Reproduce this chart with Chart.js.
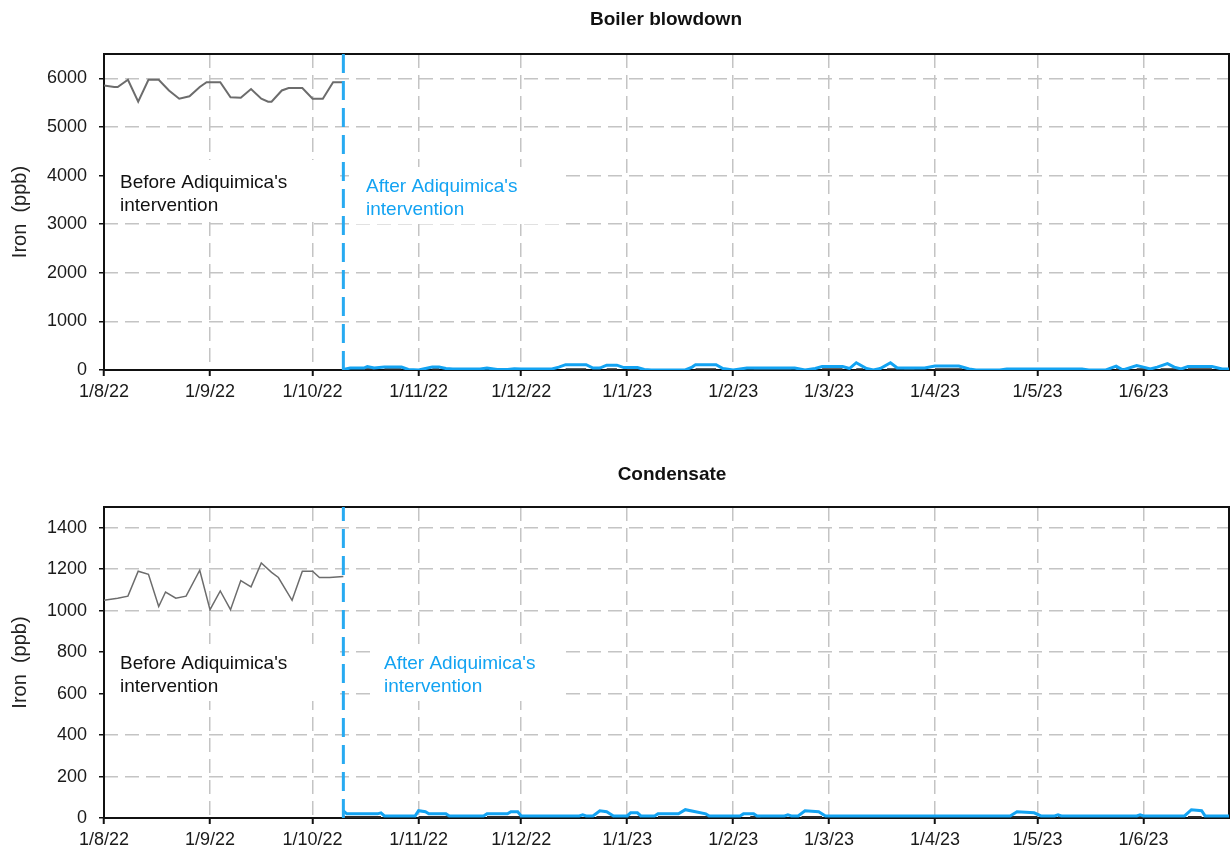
<!DOCTYPE html>
<html>
<head>
<meta charset="utf-8">
<script src="https://cdn.jsdelivr.net/npm/chart.js@4"></script>
<style>
  body { margin: 0; background: #fff; }
  canvas { position: absolute; left: 0; }
</style>
</head>
<body>
<canvas id="blow" width="1231" height="410" style="top:0px;width:1231px;height:410px"></canvas>
<canvas id="cond" width="1231" height="412" style="top:440px;width:1231px;height:412px"></canvas>
<script>
// x axis = days since 1/8/22, ticks on first day of each month
const monthTicks = [0, 31, 61, 92, 122, 153, 184, 212, 243, 273, 304];
const monthLabels = ['1/8/22', '1/9/22', '1/10/22', '1/11/22', '1/12/22', '1/1/23', '1/2/23', '1/3/23', '1/4/23', '1/5/23', '1/6/23'];
const lastDay = 329;
const interventionDay = 70;

// Boiler blowdown
const blowYTicks = [0, 1000, 2000, 3000, 4000, 5000, 6000];
const blowYMax = 6500;
const blowBeforeDays = [0, 3, 4, 7, 10, 13, 16, 19, 22, 25, 28, 30, 34, 37, 40, 43, 46, 48, 49, 52, 54, 58, 61, 64, 67, 70];
const blowBeforeValues = [5850, 5820, 5820, 5970, 5520, 5970, 5970, 5750, 5580, 5630, 5820, 5920, 5920, 5610, 5600, 5780, 5580, 5520, 5520, 5750, 5800, 5800, 5580, 5580, 5920, 5920];
const blowAfterDays = [70, 72, 76, 77, 79, 82, 87, 89, 92, 94, 96, 98, 100, 102, 110, 112, 115, 118, 120, 122, 131, 133, 135, 141, 143, 145, 147, 150, 152, 156, 158, 160, 170, 172, 173, 179, 181, 184, 186, 188, 198, 202, 205, 208, 210, 216, 218, 220, 223, 225, 227, 230, 232, 236, 240, 243, 250, 253, 255, 262, 264, 286, 288, 293, 296, 298, 302, 304, 306, 308, 311, 313, 315, 317, 324, 327, 329];
const blowAfterValues = [10, 40, 40, 70, 40, 60, 60, 10, 0, 30, 60, 60, 30, 20, 20, 40, 10, 10, 25, 20, 20, 60, 110, 110, 40, 40, 100, 100, 50, 50, 10, 0, 0, 60, 110, 110, 30, 0, 20, 40, 40, 40, 0, 30, 70, 70, 30, 150, 30, 0, 30, 150, 40, 40, 40, 80, 80, 20, 0, 0, 20, 20, 0, 0, 80, 0, 90, 60, 20, 60, 130, 60, 20, 70, 70, 20, 20];
const blowLowStart = [76, 82, 96, 135, 147, 153, 173, 190, 210, 220, 229, 234, 243, 296, 302, 309, 317];
const blowLowEnd = [79, 87, 98, 141, 150, 156, 179, 201, 216, 222, 232, 237, 251, 299, 306, 314, 324];
const blowLowLevel = 10;

// Condensate
const condYTicks = [0, 200, 400, 600, 800, 1000, 1200, 1400];
const condYMax = 1500;
const condBeforeDays = [0, 2, 4, 7, 10, 13, 16, 18, 21, 24, 28, 31, 34, 37, 40, 43, 46, 49, 51, 55, 58, 61, 63, 66, 70];
const condBeforeValues = [1050, 1055, 1060, 1070, 1190, 1175, 1020, 1090, 1060, 1070, 1195, 1005, 1095, 1005, 1145, 1115, 1230, 1185, 1160, 1050, 1190, 1190, 1160, 1160, 1165];
const condAfterDays = [70, 71, 80, 81, 82, 91, 92, 94, 95, 100, 101, 111, 112, 118, 119, 121, 122, 139, 140, 141, 143, 145, 147, 149, 153, 154, 156, 157, 161, 162, 168, 170, 173, 176, 177, 186, 187, 190, 191, 199, 200, 201, 203, 205, 209, 211, 265, 267, 272, 274, 278, 279, 280, 302, 303, 304, 316, 318, 321, 322, 329];
const condAfterValues = [35, 20, 20, 25, 10, 10, 35, 30, 20, 20, 10, 10, 20, 20, 30, 30, 10, 10, 15, 10, 10, 35, 30, 10, 10, 25, 25, 10, 10, 20, 20, 40, 30, 20, 10, 10, 20, 20, 10, 10, 15, 10, 10, 35, 30, 10, 10, 30, 25, 10, 10, 15, 10, 10, 15, 10, 10, 40, 35, 10, 10];
const condLowStart = [70, 92, 112, 144, 153, 162, 189, 204, 265, 279, 302, 317];
const condLowEnd = [81, 101, 122, 149, 157, 177, 192, 210, 273, 280, 304, 321];
const condLowLevel = 4;

const FONT = "'Liberation Sans', Arial, sans-serif";
const BLUE = '#13a3f2';
Chart.defaults.font.family = FONT;

function pts(days, vals) {
    return days.map((d, i) => ({x: d, y: vals[i]}));
}
function segs(starts, ends, level) {
    let out = [];
    starts.forEach((s, i) => {
        out.push({x: s, y: level}, {x: ends[i], y: level}, {x: ends[i], y: null});
    });
    return out;
}

// frame, white note boxes, title and notes
const panelPlugin = {
    id: 'panel',
    beforeDatasetsDraw(chart, args, opts) {
        const ctx = chart.ctx, a = chart.chartArea;
        ctx.save();
        ctx.fillStyle = '#fff';
        opts.boxes.forEach(b => ctx.fillRect(b[0], b[1], b[2], b[3]));
        ctx.strokeStyle = '#111';
        ctx.lineWidth = 2;
        ctx.strokeRect(a.left, a.top, a.right - a.left, a.bottom - a.top);
        ctx.restore();
    },
    afterDatasetsDraw(chart, args, opts) {
        const ctx = chart.ctx;
        ctx.save();
        ctx.fillStyle = '#111';
        ctx.font = 'bold 19px ' + FONT;
        ctx.textAlign = 'center';
        ctx.textBaseline = 'middle';
        ctx.fillText(opts.title, opts.titleX, opts.titleY);
        ctx.textAlign = 'left';
        ctx.textBaseline = 'alphabetic';
        ctx.font = '19px ' + FONT;
        opts.notes.forEach(n => {
            ctx.fillStyle = n.color;
            n.lines.forEach((t, i) => ctx.fillText(t, n.x, n.y + i * 23));
        });
        ctx.restore();
    }
};

function makeChart(id, cfg) {
    new Chart(document.getElementById(id), {
        type: 'line',
        data: {
            datasets: [
                {data: [{x: interventionDay, y: 0}, {x: interventionDay, y: cfg.yMax}], borderColor: '#27aaf1', borderWidth: 3, borderDash: [19, 8], order: 0},
                {data: pts(cfg.afterDays, cfg.afterValues), borderColor: BLUE, borderWidth: 3, order: 1},
                {data: segs(cfg.lowStart, cfg.lowEnd, cfg.lowLevel), borderColor: '#2a2a2a', borderWidth: 2.5, spanGaps: false, order: 2},
                {data: pts(cfg.beforeDays, cfg.beforeValues), borderColor: '#6c6c6c', borderWidth: cfg.grayWidth, order: 3}
            ]
        },
        options: {
            responsive: false,
            animation: false,
            devicePixelRatio: 1,
            layout: {padding: {top: cfg.top, right: 2, left: 0, bottom: 0}},
            elements: {point: {radius: 0}, line: {tension: 0}},
            plugins: {
                legend: {display: false},
                tooltip: {enabled: false},
                panel: {title: cfg.title, titleX: cfg.titleX, titleY: cfg.titleY, boxes: cfg.boxes, notes: cfg.notes}
            },
            scales: {
                x: {
                    type: 'linear', min: 0, max: lastDay,
                    afterBuildTicks: s => { s.ticks = monthTicks.map(v => ({value: v})); },
                    afterFit: s => { s.height = cfg.xAxisH; },
                    ticks: {autoSkip: false, maxRotation: 0, padding: 5, color: '#1a1a1a', font: {size: 18},
                        callback: (v, i) => monthLabels[i]},
                    grid: {color: '#c4c4c4', lineWidth: 1.5, tickLength: 6, tickColor: '#111', tickWidth: 2, tickBorderDash: []},
                    border: {display: false, dash: [14, 7]}
                },
                y: {
                    min: 0, max: cfg.yMax,
                    afterBuildTicks: s => { s.ticks = cfg.yTicks.map(v => ({value: v})); },
                    afterFit: s => { s.width = 104; },
                    ticks: {padding: 12, color: '#1a1a1a', font: {size: 18}, callback: v => String(v)},
                    grid: {color: '#c4c4c4', lineWidth: 1.5, tickLength: 5, tickColor: '#111', tickWidth: 1.5, tickBorderDash: []},
                    border: {display: false, dash: [14, 7]},
                    title: {display: true, text: 'Iron  (ppb)', color: '#222', font: {size: 20}, padding: {top: 8, bottom: 0}}
                }
            }
        },
        plugins: [panelPlugin]
    });
}

makeChart('blow', {
    title: 'Boiler blowdown', titleX: 666, titleY: 20, top: 54, xAxisH: 40,
    yMax: blowYMax, yTicks: blowYTicks, grayWidth: 2,
    beforeDays: blowBeforeDays, beforeValues: blowBeforeValues,
    afterDays: blowAfterDays, afterValues: blowAfterValues,
    lowStart: blowLowStart, lowEnd: blowLowEnd, lowLevel: blowLowLevel,
    boxes: [[105, 160, 235, 62], [354, 167, 206, 57]],
    notes: [
        {lines: ["Before Adiquimica's", 'intervention'], x: 120, y: 188, color: '#111'},
        {lines: ["After Adiquimica's", 'intervention'], x: 366, y: 192, color: BLUE}
    ]
});

makeChart('cond', {
    title: 'Condensate', titleX: 672, titleY: 35, top: 67, xAxisH: 34,
    yMax: condYMax, yTicks: condYTicks, grayWidth: 1.5,
    beforeDays: condBeforeDays, beforeValues: condBeforeValues,
    afterDays: condAfterDays, afterValues: condAfterValues,
    lowStart: condLowStart, lowEnd: condLowEnd, lowLevel: condLowLevel,
    boxes: [[105, 204, 235, 57], [373, 204, 190, 57]],
    notes: [
        {lines: ["Before Adiquimica's", 'intervention'], x: 120, y: 229, color: '#111'},
        {lines: ["After Adiquimica's", 'intervention'], x: 384, y: 229, color: BLUE}
    ]
});
</script>
</body>
</html>
